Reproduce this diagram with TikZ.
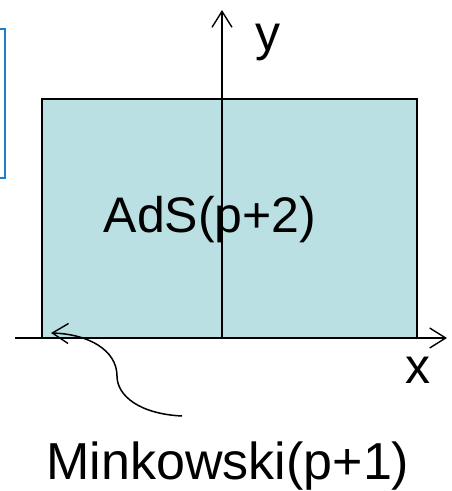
\documentclass[tikz,border=0pt]{standalone}
\usepackage{fontspec}
\setmainfont{Liberation Sans}
\usetikzlibrary{arrows.meta}
\definecolor{bulkfill}{HTML}{BAE0E3}
\definecolor{framecolor}{HTML}{1F7FCF}
\definecolor{ink}{HTML}{000000}
\tikzset{
  bulk/.style={
    draw=ink,
    fill=bulkfill,
    line width=1.6pt,
    minimum width=375pt,
    minimum height=239pt,
    inner sep=0pt
  },
  frame/.style={
    draw=framecolor,
    line width=1.8pt
  },
  axis/.style={
    -{Straight Barb[length=16pt,width=20pt,line width=1.4pt]},
    draw=ink,
    line width=1.5pt
  },
  pointer/.style={
    -{Straight Barb[length=16pt,width=20pt,line width=1.4pt]},
    draw=ink,
    line width=1.5pt
  },
  biglabel/.style={
    text=ink,
    font=\fontsize{50}{60}\selectfont,
    inner sep=0pt,
    anchor=base
  }
}
\begin{document}
\begin{tikzpicture}[x=1pt,y=-1pt]

  \useasboundingbox (0,0) rectangle (452,491);

  % Frame cut off at the left edge.
  \draw[frame] (-20,29) rectangle (5,178);

  % Bulk region and its labels.
  \node[bulk] (bulk) at (229.5,218.5) {};
  \node[biglabel] (ads) at (210,232) {AdS(p+2)};
  \node[biglabel,font=\fontsize{52}{60}\selectfont] (mink) at (228,479) {Minkowski(p+1)};
  \node[biglabel] (ylabel) at (268,50) {y};
  \node[biglabel] (xlabel) at (418,383) {x};

  \coordinate (xstart) at (15,338);
  \coordinate (xend) at (447,338);
  \coordinate (yend) at (222,10);
  \coordinate (tail) at (182,416);
  \coordinate (corner) at (51,333);

  % Axes drawn over the bulk.
  \draw[axis] (xstart) -- (xend);
  \draw[axis] (bulk.south -| yend) -- (yend);

  \draw[pointer] (tail) .. controls (140,414) and (117,396) .. (117,376)
    .. controls (117,350) and (88,334) .. (corner);

\end{tikzpicture}
\end{document}
